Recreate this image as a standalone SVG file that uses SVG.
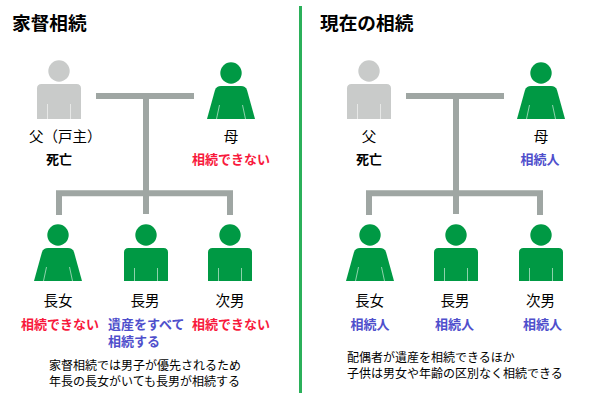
<svg xmlns="http://www.w3.org/2000/svg" width="600" height="400" viewBox="0 0 600 400">
<style>
text{font-family:"Noto Sans CJK JP","Noto Sans",sans-serif;fill:#000}
.t{font-size:18.67px;font-weight:700}
.l{font-size:14.5px;text-anchor:middle}
.s{font-size:13px;font-weight:700;text-anchor:middle}
.r{fill:#f8193c}
.b{fill:#4f4fcc}
.n{font-size:12px}
.k{stroke:#9fa6a3;stroke-width:6;fill:none}
.g{fill:#009944}
.d{fill:#c9cbca}
.w{stroke:#fff;stroke-opacity:.7;stroke-width:.8;fill:none}
</style>
<defs>
<g id="father"><circle cx="0" cy="-48" r="10.7"/><path d="M-22 0V-30.500Q-22 -35 -17.500 -35H17.500Q22 -35 22 -30.500V0Z"/><path class="w" d="M-11.500 0V-15M11.500 0V-15"/></g>
<g id="man"><circle cx="0" cy="-46" r="10.7"/><path d="M-22 0V-28.500Q-22 -33 -17.500 -33H17.500Q22 -33 22 -28.500V0Z"/><path class="w" d="M-11.500 0V-13M11.500 0V-13"/></g>
<g id="woman"><circle cx="0" cy="-46" r="10.7"/><path d="M-24 0L-16 -29Q-14.500 -33 -10 -33H10Q14.500 -33 16 -29L24 0Z"/><path class="w" d="M-14.500 0L-11.500 -14M14.500 0L11.500 -14"/></g>
</defs>
<g id="connectors">
<path class="k" d="M96 96H194M146 96V214M59 215V193.300H230V215"/>
<path class="k" d="M406 96H504M456 96V214M369 215V193.300H540V215"/>
</g>
<rect id="divider" x="299" y="6" width="3" height="387" fill="#2bb05a"/>
<g id="title-left"><text class="t" x="12" y="30">家督相続</text></g>
<g id="title-right"><text class="t" x="320" y="30">現在の相続</text></g>
<g id="l-father"><use href="#father" class="d" x="59" y="119"/><text class="l" x="29" y="141.500" style="text-anchor:start">父（戸主）</text><text class="s" x="59" y="164">死亡</text></g>
<g id="l-mother"><use href="#woman" class="g" x="231" y="119"/><text class="l" x="231" y="141.500">母</text><text class="s r" x="231" y="164">相続できない</text></g>
<g id="l-daughter"><use href="#woman" class="g" x="58" y="281"/><text class="l" x="58" y="306">長女</text><text class="s r" x="60" y="329">相続できない</text></g>
<g id="l-son1"><use href="#man" class="g" x="146" y="281"/><text class="l" x="145" y="306">長男</text><text class="s b" style="text-anchor:start"><tspan x="108" y="329">遺産をすべて</tspan><tspan x="108" y="345.500">相続する</tspan></text></g>
<g id="l-son2"><use href="#man" class="g" x="230" y="281"/><text class="l" x="230" y="306">次男</text><text class="s r" x="231" y="329">相続できない</text></g>
<g id="l-note"><text class="n"><tspan x="49" y="370">家督相続では男子が優先されるため</tspan><tspan x="49" y="386">年長の長女がいても長男が相続する</tspan></text></g>
<g id="r-father"><use href="#father" class="d" x="369" y="119"/><text class="l" x="369" y="141.500">父</text><text class="s" x="369" y="164">死亡</text></g>
<g id="r-mother"><use href="#woman" class="g" x="541" y="119"/><text class="l" x="541" y="141.500">母</text><text class="s b" x="540" y="164">相続人</text></g>
<g id="r-daughter"><use href="#woman" class="g" x="370" y="281"/><text class="l" x="369.500" y="306">長女</text><text class="s b" x="370" y="329">相続人</text></g>
<g id="r-son1"><use href="#man" class="g" x="456" y="281"/><text class="l" x="455" y="306">長男</text><text class="s b" x="454.500" y="329">相続人</text></g>
<g id="r-son2"><use href="#man" class="g" x="541" y="281"/><text class="l" x="540.500" y="306">次男</text><text class="s b" x="542.500" y="329">相続人</text></g>
<g id="r-note"><text class="n"><tspan x="347" y="362">配偶者が遺産を相続できるほか</tspan><tspan x="347" y="378">子供は男女や年齢の区別なく相続できる</tspan></text></g>
</svg>
